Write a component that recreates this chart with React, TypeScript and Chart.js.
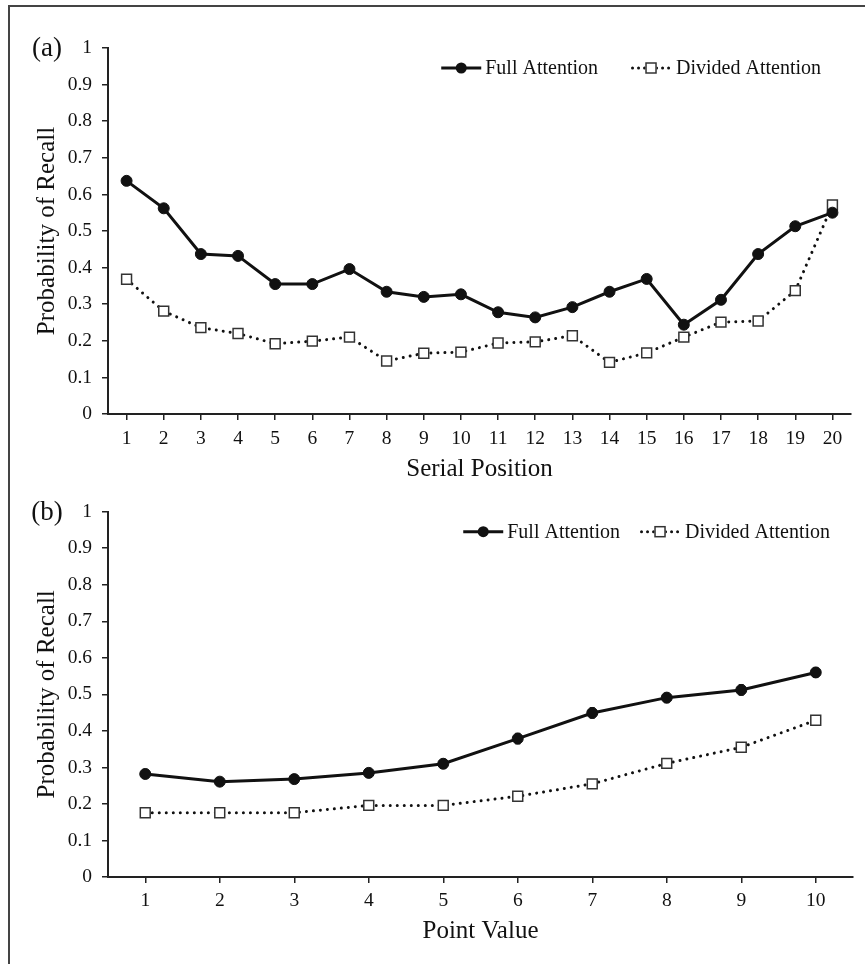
import React, { useEffect, useRef } from "react";
import { Chart, registerables } from "chart.js";
Chart.register(...registerables);

const FONT = "'Liberation Serif', 'Times New Roman', serif";
const INK = "#111";

// Panel (a): serial position curve
const serialPositions = ["1","2","3","4","5","6","7","8","9","10","11","12","13","14","15","16","17","18","19","20"];
const serialFull = [0.637,0.562,0.437,0.432,0.355,0.355,0.396,0.334,0.320,0.327,0.278,0.264,0.292,0.334,0.369,0.244,0.312,0.437,0.513,0.550];
const serialDivided = [0.368,0.281,0.236,0.220,0.192,0.199,0.210,0.145,0.166,0.169,0.194,0.197,0.214,0.141,0.167,0.210,0.251,0.254,0.337,0.571];

// Panel (b): point value
const pointValues = ["1","2","3","4","5","6","7","8","9","10"];
const pointFull = [0.282,0.261,0.268,0.285,0.310,0.379,0.449,0.491,0.512,0.560];
const pointFullErr = [0.012,0.010,0.011,0.012,0.012,0.014,0.014,0.013,0.014,0.013];
const pointDivided = [0.176,0.176,0.176,0.196,0.196,0.221,0.255,0.311,0.355,0.429];

const seriesLabels = ["Full Attention", "Divided Attention"];
const yAxisTitle = "Probability of Recall";

const legendPlugin = {
  id: "customLegend",
  afterDraw(chart: any, _args: any, opts: any) {
    const ctx = chart.ctx;
    const area = chart.chartArea;
    ctx.save();
    // panel letter
    ctx.font = `27px ${FONT}`;
    ctx.fillStyle = INK;
    ctx.textAlign = "center";
    ctx.textBaseline = "middle";
    ctx.fillText(opts.panel, opts.panelX, area.top + 1);

    ctx.font = `20px ${FONT}`;
    ctx.textAlign = "left";
    ctx.textBaseline = "middle";
    const y = area.top + opts.dy;
    const fullText = chart.data.datasets[0].label;
    const divText = chart.data.datasets[1].label;
    const wDiv = ctx.measureText(divText).width;
    const wFull = ctx.measureText(fullText).width;
    const divTextX = area.right - opts.right - wDiv;
    const divLineEnd = divTextX - 5;
    const divLineStart = divLineEnd - 40;
    const fullTextEnd = divLineStart - opts.gap;
    const fullTextX = fullTextEnd - wFull;
    const fullLineEnd = fullTextX - 4;
    const fullLineStart = fullLineEnd - 40;

    // full attention marker
    ctx.strokeStyle = INK;
    ctx.lineWidth = 3;
    ctx.beginPath();
    ctx.moveTo(fullLineStart, y);
    ctx.lineTo(fullLineEnd, y);
    ctx.stroke();
    ctx.fillStyle = INK;
    ctx.beginPath();
    ctx.arc((fullLineStart + fullLineEnd) / 2, y, 5.5, 0, Math.PI * 2);
    ctx.fill();
    ctx.fillText(fullText, fullTextX, y + 1);

    // divided attention marker
    ctx.setLineDash([0.01, 6]);
    ctx.lineCap = "round";
    ctx.lineWidth = 3;
    ctx.beginPath();
    ctx.moveTo(divLineStart + 1.5, y);
    ctx.lineTo(divLineEnd, y);
    ctx.stroke();
    ctx.setLineDash([]);
    const cx = (divLineStart + divLineEnd) / 2;
    ctx.fillStyle = "#fff";
    ctx.fillRect(cx - 5.5, y - 5.5, 11, 11);
    ctx.strokeStyle = "#333";
    ctx.lineWidth = 1.5;
    ctx.strokeRect(cx - 5, y - 5, 10, 10);
    ctx.fillStyle = INK;
    ctx.fillText(divText, divTextX, y + 1);
    ctx.restore();
  },
};

const errorBarPlugin = {
  id: "errorBars",
  beforeDatasetsDraw(chart: any, _args: any, opts: any) {
    if (!opts || !opts.errors) return;
    const meta = chart.getDatasetMeta(0);
    const ys = chart.scales.y;
    const data = chart.data.datasets[0].data;
    const ctx = chart.ctx;
    ctx.save();
    ctx.strokeStyle = "#333";
    ctx.lineWidth = 1.5;
    meta.data.forEach((el: any, i: number) => {
      const e = opts.errors[i];
      const top = ys.getPixelForValue(data[i] + e);
      const bot = ys.getPixelForValue(data[i] - e);
      ctx.beginPath();
      ctx.moveTo(el.x, top);
      ctx.lineTo(el.x, bot);
      ctx.moveTo(el.x - 2.5, top);
      ctx.lineTo(el.x + 2.5, top);
      ctx.moveTo(el.x - 2.5, bot);
      ctx.lineTo(el.x + 2.5, bot);
      ctx.stroke();
    });
    ctx.restore();
  },
};

function makeConfig(p: {
  labels: string[];
  full: number[];
  divided: number[];
  errors?: number[];
  xTitle: string;
  padTop: number;
  padRight: number;
  xHeight: number;
  xTitlePad: number;
  xTickPad: number;
  panel: string;
  legendRight: number;
  legendGap: number;
}) {
  return {
    type: "line",
    data: {
      labels: p.labels,
      datasets: [
        {
          label: seriesLabels[0],
          data: p.full,
          borderColor: INK,
          borderWidth: 3,
          pointStyle: "circle",
          pointRadius: 5.5,
          pointBackgroundColor: INK,
          pointBorderColor: INK,
          pointBorderWidth: 1,
          tension: 0,
        },
        {
          label: seriesLabels[1],
          data: p.divided,
          borderColor: INK,
          borderWidth: 3,
          borderDash: [0.01, 7],
          borderCapStyle: "round",
          pointStyle: "rect",
          pointRadius: 7,
          pointBackgroundColor: "#fff",
          pointBorderColor: "#333",
          pointBorderWidth: 1.5,
          tension: 0,
        },
      ],
    },
    options: {
      animation: false,
      responsive: false,
      maintainAspectRatio: false,
      layout: { padding: { top: p.padTop, right: p.padRight, left: 0, bottom: 0 } },
      plugins: {
        legend: { display: false },
        tooltip: { enabled: false },
        customLegend: { panel: p.panel, panelX: 47, dy: 20, right: p.legendRight, gap: p.legendGap },
        errorBars: { errors: p.errors },
      },
      scales: {
        x: {
          type: "category",
          offset: true,
          afterFit: (s: any) => { s.height = p.xHeight; },
          grid: { display: true, drawOnChartArea: false, drawTicks: true, tickLength: 6, color: "#222", lineWidth: 1.5, offset: false },
          border: { display: true, color: "#222", width: 2 },
          ticks: { color: INK, font: { family: FONT, size: 19.5 }, padding: p.xTickPad, autoSkip: false, maxRotation: 0 },
          title: { display: true, text: p.xTitle, color: INK, font: { family: FONT, size: 25 }, padding: { top: 0, bottom: p.xTitlePad } },
        },
        y: {
          min: 0,
          max: 1,
          afterFit: (s: any) => { s.width = 108; },
          grid: { display: true, drawOnChartArea: false, drawTicks: true, tickLength: 6, color: "#222", lineWidth: 1.5 },
          border: { display: true, color: "#222", width: 2 },
          ticks: {
            stepSize: 0.1,
            color: INK,
            font: { family: FONT, size: 19.5 },
            padding: 10,
            callback: (v: any) => String(Math.round(Number(v) * 10) / 10),
          },
          title: { display: true, text: yAxisTitle, color: INK, font: { family: FONT, size: 25 }, padding: { top: 32, bottom: 0 } },
        },
      },
    },
    plugins: [legendPlugin, errorBarPlugin],
  };
}

function Panel(props: { top: number; height: number; cfg: any }) {
  const ref = useRef<HTMLCanvasElement | null>(null);
  useEffect(() => {
    if (!ref.current) return;
    const chart = new Chart(ref.current, props.cfg);
    return () => chart.destroy();
  }, []);
  return (
    <canvas
      ref={ref}
      width={865}
      height={props.height}
      style={{ position: "absolute", left: 0, top: props.top, width: 865, height: props.height }}
    />
  );
}

export default function App() {
  const cfgA = makeConfig({
    labels: serialPositions,
    full: serialFull,
    divided: serialDivided,
    xTitle: "Serial Position",
    padTop: 48,
    padRight: 14,
    xHeight: 76,
    xTitlePad: 6,
    xTickPad: 7,
    panel: "(a)",
    legendRight: 30,
    legendGap: 33,
  });
  const cfgB = makeConfig({
    labels: pointValues,
    full: pointFull,
    divided: pointDivided,
    errors: pointFullErr,
    xTitle: "Point Value",
    padTop: 13,
    padRight: 12,
    xHeight: 87,
    xTitlePad: 18,
    xTickPad: 6,
    panel: "(b)",
    legendRight: 23,
    legendGap: 20,
  });
  return (
    <div style={{ position: "absolute", left: 0, top: 0, width: 865, height: 964, background: "#fff", overflow: "hidden" }}>
      <div style={{ position: "absolute", left: 8, top: 5, width: 880, height: 980, borderTop: "2px solid #444", borderLeft: "2px solid #444" }} />
      <Panel top={0} height={490} cfg={cfgA} />
      <Panel top={490} height={474} cfg={cfgB} />
    </div>
  );
}
